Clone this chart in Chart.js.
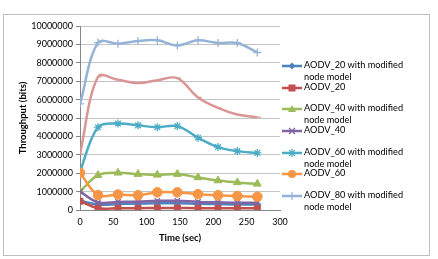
<!DOCTYPE html>
<html><head><meta charset="utf-8">
<script src="https://cdn.jsdelivr.net/npm/chart.js@4/dist/chart.umd.min.js"></script>
<style>
html,body{margin:0;padding:0;background:#fff;}
#wrap{position:relative;width:438px;height:259px;}
#frame{position:absolute;left:3px;top:14px;width:427px;height:242px;border:1px solid #bfbfbf;box-sizing:border-box;pointer-events:none;}
#legend{position:absolute;left:0;top:0;width:438px;height:259px;pointer-events:none;font-family:Lato,"Liberation Sans",sans-serif;font-size:9.2px;color:#000;}
.item{position:absolute;left:282px;height:24px;}
.item svg{position:absolute;left:0;top:2px;}
.item span{position:absolute;left:22px;top:0;line-height:12px;white-space:pre;}
</style></head>
<body><div id="wrap"><canvas id="c" width="438" height="259"></canvas><div id="frame"></div><div id="legend"></div></div>
<script>
const times = [0, 27, 57, 87, 116, 146, 177, 207, 236, 266];
const aodv20mod = [500000, 300000, 320000, 350000, 370000, 370000, 340000, 320000, 300000, 300000];
const aodv20 = [480000, 100000, 100000, 100000, 110000, 110000, 100000, 100000, 100000, 100000];
const aodv40mod = [1000000, 1890000, 2020000, 1950000, 1910000, 1950000, 1770000, 1600000, 1500000, 1420000];
const aodv40 = [1000000, 420000, 440000, 460000, 500000, 500000, 440000, 420000, 400000, 400000];
const aodv60mod = [2100000, 4500000, 4700000, 4600000, 4500000, 4560000, 3930000, 3420000, 3200000, 3100000];
const aodv60 = [2020000, 810000, 840000, 800000, 960000, 960000, 860000, 800000, 760000, 720000];
const aodv80mod = [5770000, 9100000, 9040000, 9190000, 9220000, 8940000, 9220000, 9080000, 9080000, 8560000];
const aodv80 = [3050000, 7240000, 7080000, 6900000, 7050000, 7170000, 6120000, 5550000, 5190000, 5040000];
const seriesNames = ["AODV_20 with modified\nnode model", "AODV_20", "AODV_40 with modified\nnode model", "AODV_40",
  "AODV_60 with modified\nnode model", "AODV_60", "AODV_80 with modified\nnode model", "AODV_80"];
const yTicks = [0,1000000,2000000,3000000,4000000,5000000,6000000,7000000,8000000,9000000,10000000];
const xTicks = [0,50,100,150,200,250,300];

const seriesData = [aodv20mod, aodv20, aodv40mod, aodv40, aodv60mod, aodv60, aodv80mod, aodv80];
const colors = ["#4F81BD","#C0504D","#9BBB59","#8064A2","#4BACC6","#F79646","#95B3D7","#D99694"];
const styles = ["rectRot","rect","triangle","crossRot","star","circle","cross","dash"];
const radii = [3.5,4.2,4.5,3.8,4,4.8,4,3.5];

const FONT = "Lato, 'Liberation Sans', sans-serif";
const datasets = seriesData.map((arr,i)=>({
  label: seriesNames[i],
  data: arr.map((v,j)=>({x:times[j], y:v})),
  showLine: true,
  borderColor: colors[i],
  backgroundColor: colors[i],
  borderWidth: 2.5,
  pointStyle: styles[i],
  pointRadius: radii[i],
  pointBorderWidth: (styles[i]==="cross"||styles[i]==="crossRot"||styles[i]==="star"||styles[i]==="dash")?1.3:1,
  pointBorderColor: colors[i],
  pointBackgroundColor: colors[i],
  tension: 0.35,
  order: 8 - i
}));

new Chart(document.getElementById('c'), {
  type: 'scatter',
  data: { datasets },
  options: {
    responsive: false, animation: false, events: [],
    layout: { padding: { left: 13, right: 158, top: 26, bottom: 11 } },
    plugins: { legend: { display: false }, tooltip: { enabled: false } },
    scales: {
      x: {
        type: 'linear', min: 0, max: 300,
        afterBuildTicks: s => { s.ticks = xTicks.map(v=>({value:v})); },
        grid: { display: false, drawTicks: true, tickLength: 4, tickColor: '#868686' },
        border: { color: '#868686', width: 1 },
        ticks: { color: '#000', font: { family: FONT, size: 9 }, padding: 3, maxRotation: 0 },
        title: { display: true, text: 'Time (sec)', color: '#000', font: { family: FONT, size: 9.5, weight: 'bold' }, padding: { top: 2, bottom: 4 } },
        afterFit: s => { s.height = 38; }
      },
      y: {
        type: 'linear', min: 0, max: 10000000,
        afterBuildTicks: s => { s.ticks = yTicks.map(v=>({value:v})); },
        grid: { color: '#c4c4c4', lineWidth: 1, drawTicks: true, tickLength: 4, tickColor: '#868686' },
        border: { color: '#868686', width: 1 },
        ticks: { color: '#000', font: { family: FONT, size: 9 }, padding: 3, callback: v => String(v) },
        title: { display: true, text: 'Throughput (bits)', color: '#000', font: { family: FONT, size: 9.5, weight: 'bold' }, padding: { top: 4, bottom: 2 } },
        afterFit: s => { s.width = 67; }
      }
    }
  }
});

// HTML legend
const lg = document.getElementById('legend');
function markerSvg(i){
  const c = colors[i], cx = 10, cy = 5;
  let m = '';
  switch(styles[i]){
    case 'rectRot': m = `<polygon points="${cx},${cy-3.5} ${cx+3.5},${cy} ${cx},${cy+3.5} ${cx-3.5},${cy}" fill="${c}"/>`; break;
    case 'rect': m = `<rect x="${cx-3.5}" y="${cy-3.5}" width="7" height="7" fill="${c}"/>`; break;
    case 'triangle': m = `<polygon points="${cx},${cy-4} ${cx+4},${cy+3} ${cx-4},${cy+3}" fill="${c}"/>`; break;
    case 'crossRot': m = `<path d="M${cx-3},${cy-3}L${cx+3},${cy+3}M${cx+3},${cy-3}L${cx-3},${cy+3}" stroke="${c}" stroke-width="1.3"/>`; break;
    case 'star': m = `<path d="M${cx-3},${cy-3}L${cx+3},${cy+3}M${cx+3},${cy-3}L${cx-3},${cy+3}M${cx},${cy-4}L${cx},${cy+4}" stroke="${c}" stroke-width="1.2"/>`; break;
    case 'circle': m = `<circle cx="${cx}" cy="${cy}" r="4" fill="${c}"/>`; break;
    case 'cross': m = `<path d="M${cx},${cy-4}L${cx},${cy+4}" stroke="${c}" stroke-width="1.2"/>`; break;
    default: m = '';
  }
  return `<svg width="20" height="10" viewBox="0 0 20 10"><line x1="0" y1="${cy}" x2="20" y2="${cy}" stroke="${c}" stroke-width="2.5"/>${m}</svg>`;
}
for (let i = 0; i < 7; i++) {
  const d = document.createElement('div');
  d.className = 'item';
  d.style.top = (66 + i*21.65 - 7) + 'px';
  d.innerHTML = markerSvg(i) + '<span></span>';
  d.querySelector('span').textContent = seriesNames[i];
  lg.appendChild(d);
}
</script></body></html>
